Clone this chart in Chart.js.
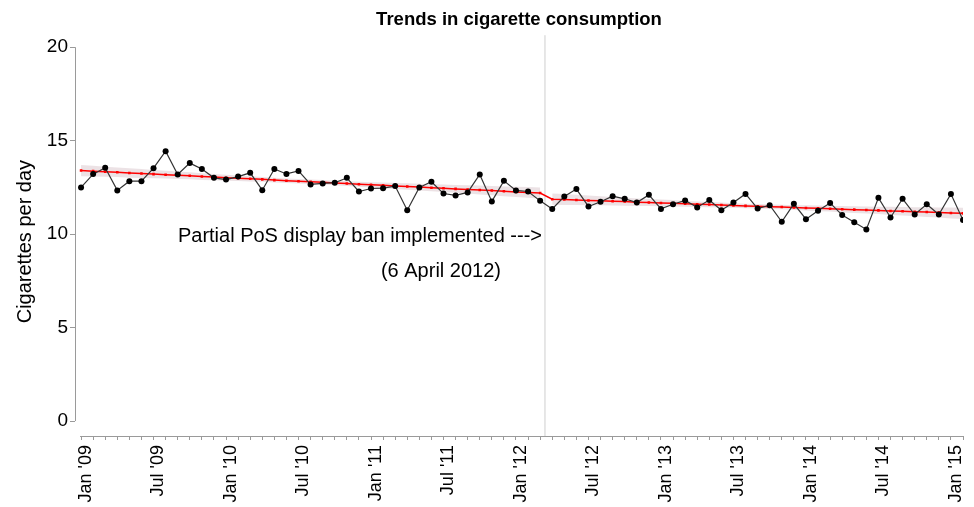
<!DOCTYPE html>
<html>
<head>
<meta charset="utf-8">
<script src="https://cdn.jsdelivr.net/npm/chart.js@4"></script>
<style>
  html, body { margin: 0; padding: 0; background: #fff; }
  #wrap { width: 974px; height: 507px; }
</style>
</head>
<body>
<div id="wrap"><canvas id="chart"></canvas></div>
<script>
// months Jan 2009 .. Feb 2015
const startYear = 2009;
const monthNames = ['Jan','Feb','Mar','Apr','May','Jun','Jul','Aug','Sep','Oct','Nov','Dec'];

// observed cigarettes per day, one per month
const observed = [
  12.50, 13.21, 13.55, 12.34, 12.83, 12.83, 13.53, 14.44, 13.19, 13.80, 13.48, 13.01,
  12.92, 13.08, 13.28, 12.35, 13.49, 13.22, 13.38, 12.66, 12.71, 12.75, 13.01, 12.28,
  12.44, 12.46, 12.57, 11.28, 12.50, 12.80, 12.17, 12.07, 12.23, 13.19, 11.75, 12.85,
  12.34, 12.28, 11.78, 11.35, 12.01, 12.41, 11.48, 11.73, 12.03, 11.89, 11.69, 12.10,
  11.35, 11.60, 11.80, 11.43, 11.82, 11.28, 11.69, 12.15, 11.37, 11.55, 10.66, 11.62,
  10.80, 11.25, 11.67, 11.02, 10.64, 10.25, 11.94, 10.89, 11.89, 11.05, 11.60, 11.05,
  12.15, 10.75
];

// fitted trend (segmented regression)
const trend = [
  13.40, 13.37, 13.34, 13.31, 13.27, 13.24, 13.21, 13.18, 13.15, 13.12, 13.08, 13.05,
  13.02, 12.99, 12.96, 12.93, 12.89, 12.86, 12.83, 12.80, 12.77, 12.74, 12.71, 12.67,
  12.64, 12.61, 12.58, 12.55, 12.52, 12.48, 12.45, 12.42, 12.39, 12.36, 12.33, 12.29,
  12.26, 12.23, 12.20, 11.87, 11.85, 11.83, 11.80, 11.78, 11.76, 11.74, 11.71, 11.69,
  11.67, 11.65, 11.62, 11.60, 11.58, 11.56, 11.53, 11.51, 11.49, 11.47, 11.45, 11.42,
  11.40, 11.38, 11.36, 11.33, 11.31, 11.29, 11.27, 11.24, 11.22, 11.20, 11.18, 11.16,
  11.13, 11.11
];

// half width of the confidence band around the trend
const ciHalf = [
  0.30, 0.29, 0.27, 0.26, 0.25, 0.24, 0.22, 0.21, 0.20, 0.19, 0.18, 0.17,
  0.16, 0.15, 0.14, 0.13, 0.13, 0.12, 0.12, 0.12, 0.12, 0.12, 0.13, 0.13,
  0.14, 0.15, 0.16, 0.17, 0.18, 0.19, 0.20, 0.21, 0.22, 0.24, 0.25, 0.26,
  0.27, 0.29, 0.30, 0.30, 0.29, 0.27, 0.26, 0.24, 0.23, 0.22, 0.20, 0.19,
  0.18, 0.17, 0.15, 0.15, 0.14, 0.13, 0.12, 0.12, 0.12, 0.12, 0.12, 0.13,
  0.14, 0.15, 0.15, 0.17, 0.18, 0.19, 0.20, 0.22, 0.23, 0.24, 0.26, 0.27,
  0.29, 0.30
];

const breakIndex = 39;      // first month after the ban (Apr 2012)
const banMonth = 38.4;      // 6 April 2012 on the month axis
const yTicks = [0, 5, 10, 15, 20];

function monthLabel(i) {
  const y = startYear + Math.floor(i / 12);
  return monthNames[i % 12] + " '" + String(y).slice(2);
}

function pts(arr, from, to, f) {
  const out = [];
  for (let i = from; i < to; i++) out.push({x: i, y: f ? f(i) : arr[i]});
  return out;
}

const n = observed.length;
const upA = pts(null, 0, breakIndex, i => trend[i] + ciHalf[i]);
const loA = pts(null, 0, breakIndex, i => trend[i] - ciHalf[i]);
const upB = pts(null, breakIndex, n, i => trend[i] + ciHalf[i]);
const loB = pts(null, breakIndex, n, i => trend[i] - ciHalf[i]);

const bandColor = 'rgba(205,180,186,0.38)';
const font = '"Liberation Sans", Arial, sans-serif';

const extras = {
  id: 'extras',
  beforeDatasetsDraw(chart) {
    const {ctx, chartArea, scales: {x, y}} = chart;
    ctx.save();
    // ban line
    const bx = x.getPixelForValue(banMonth);
    ctx.strokeStyle = '#cfcfcf';
    ctx.lineWidth = 1;
    ctx.beginPath();
    ctx.moveTo(bx, chartArea.top - 12);
    ctx.lineTo(bx, chartArea.bottom);
    ctx.stroke();
    // axes
    ctx.strokeStyle = '#9a9a9a';
    ctx.beginPath();
    ctx.moveTo(chartArea.left + 0.5, y.getPixelForValue(20));
    ctx.lineTo(chartArea.left + 0.5, y.getPixelForValue(0));
    ctx.moveTo(x.getPixelForValue(0) - 1, chartArea.bottom + 0.5);
    ctx.lineTo(x.getPixelForValue(n - 1) + 1, chartArea.bottom + 0.5);
    ctx.stroke();
    // annotation
    ctx.fillStyle = '#000';
    ctx.font = '20px ' + font;
    ctx.textAlign = 'right';
    ctx.textBaseline = 'middle';
    ctx.fillText('Partial PoS display ban implemented --->', bx - 3, y.getPixelForValue(9.9));
    ctx.fillText('(6 April 2012)', bx - 44, y.getPixelForValue(8.0));
    ctx.restore();
  }
};

new Chart(document.getElementById('chart'), {
  type: 'line',
  data: {
    datasets: [
      { data: upA, borderWidth: 0, pointRadius: 0, fill: false, order: 3 },
      { data: loA, borderWidth: 0, pointRadius: 0, fill: 0, backgroundColor: bandColor, order: 3 },
      { data: upB, borderWidth: 0, pointRadius: 0, fill: false, order: 3 },
      { data: loB, borderWidth: 0, pointRadius: 0, fill: 2, backgroundColor: bandColor, order: 3 },
      {
        data: pts(trend, 0, n),
        borderColor: '#ff0000', borderWidth: 1.5,
        pointStyle: 'rect', pointRadius: 1.8,
        pointBackgroundColor: '#ff0000', pointBorderWidth: 0,
        fill: false, order: 2
      },
      {
        data: pts(observed, 0, n),
        borderColor: '#333', borderWidth: 1.2,
        pointRadius: 3, pointBackgroundColor: '#000', pointBorderColor: '#000', pointBorderWidth: 0,
        fill: false, order: 1
      }
    ]
  },
  options: {
    responsive: true,
    maintainAspectRatio: false,
    animation: false,
    devicePixelRatio: 1,
    layout: { padding: { left: 0, right: 11, top: 0, bottom: 0 } },
    plugins: {
      legend: { display: false },
      tooltip: { enabled: false },
      title: {
        display: true,
        fullSize: false,
        text: 'Trends in cigarette consumption',
        color: '#000',
        font: { family: font, size: 18.5, weight: 'bold' },
        padding: { top: 9, bottom: 16 }
      }
    },
    scales: {
      x: {
        type: 'linear',
        min: -0.5,
        max: n - 1,
        afterBuildTicks: s => { s.ticks = observed.map((v, i) => ({value: i})); },
        afterFit: s => { s.height = 71; s.paddingLeft = 0; s.paddingRight = 0; },
        border: { display: false },
        grid: { drawOnChartArea: false, drawTicks: true, tickLength: 4, color: '#9a9a9a' },
        ticks: {
          autoSkip: false,
          maxRotation: 90, minRotation: 90,
          padding: 5,
          labelOffset: 5,
          color: '#000',
          font: { family: font, size: 18 },
          callback: v => (v % 6 === 0 ? monthLabel(v) : '')
        }
      },
      y: {
        min: -0.8,
        max: 20,
        afterBuildTicks: s => { s.ticks = yTicks.map(v => ({value: v})); },
        afterFit: s => { s.width = 75; },
        border: { display: false },
        grid: { drawOnChartArea: false, drawTicks: true, tickLength: 5, color: '#9a9a9a' },
        ticks: {
          padding: 2,
          color: '#000',
          font: { family: font, size: 19 }
        },
        title: {
          display: true,
          text: 'Cigarettes per day',
          color: '#000',
          font: { family: font, size: 20 },
          padding: { top: 13, bottom: 0 }
        }
      }
    }
  },
  plugins: [extras]
});
</script>
</body>
</html>
